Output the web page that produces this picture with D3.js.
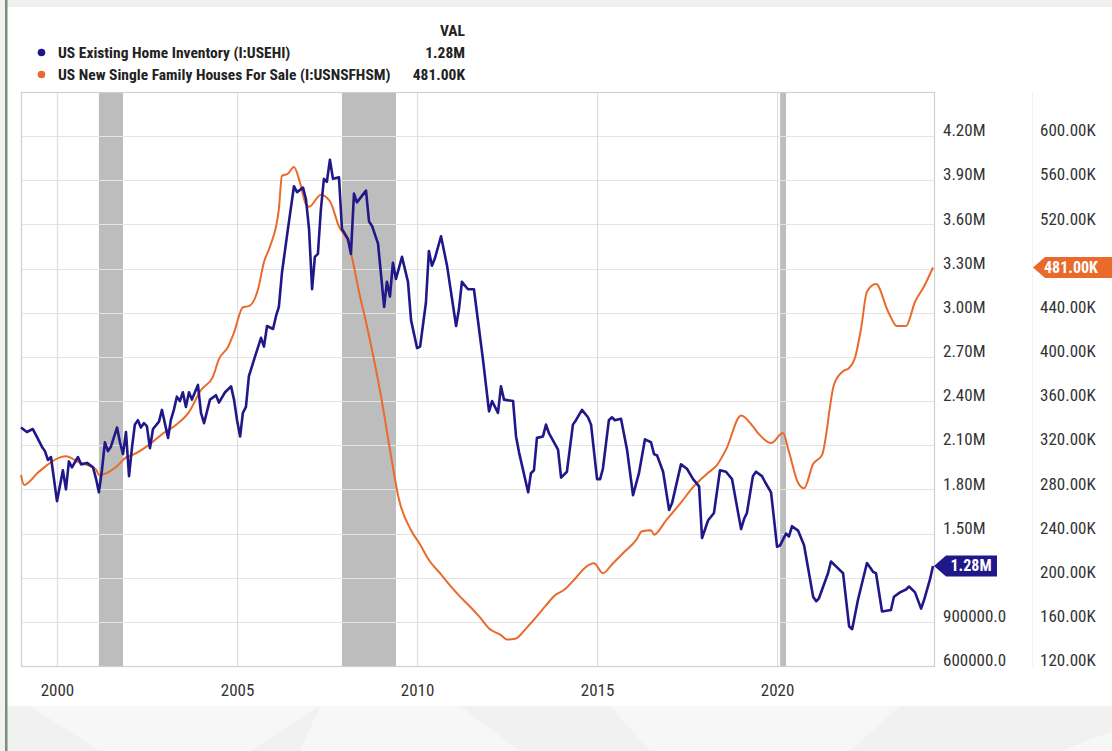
<!DOCTYPE html>
<html>
<head>
<meta charset="utf-8">
<script src="https://cdn.jsdelivr.net/npm/d3@7"></script>
<style>
  html, body { margin: 0; padding: 0; background: #f1f1f1; }
  svg { display: block; }
</style>
</head>
<body>
<svg id="chart" width="1112" height="751"></svg>
<script>
// US Existing Home Inventory (millions), monthly readings
const existingDates = ["1999-01","1999-03","1999-05","1999-06","1999-08","1999-09","1999-10","1999-11","2000-01","2000-03","2000-04","2000-05","2000-06","2000-08","2000-09","2000-11","2001-01","2001-02","2001-03","2001-04","2001-05","2001-06","2001-07","2001-09","2001-10","2001-11","2001-12","2002-01","2002-02","2002-03","2002-04","2002-05","2002-06","2002-07","2002-08","2002-09","2002-11","2002-12","2003-02","2003-03","2003-04","2003-05","2003-06","2003-07","2003-08","2003-09","2003-10","2003-12","2004-01","2004-02","2004-04","2004-06","2004-07","2004-09","2004-11","2004-12","2005-01","2005-02","2005-03","2005-04","2005-05","2005-07","2005-09","2005-10","2005-11","2006-01","2006-02","2006-03","2006-04","2006-06","2006-08","2006-09","2006-11","2006-12","2007-01","2007-02","2007-03","2007-04","2007-05","2007-06","2007-07","2007-08","2007-09","2007-11","2007-12","2008-02","2008-03","2008-04","2008-05","2008-08","2008-09","2008-10","2008-12","2009-02","2009-03","2009-04","2009-05","2009-06","2009-08","2009-10","2009-11","2010-01","2010-02","2010-04","2010-05","2010-06","2010-07","2010-09","2010-11","2011-02","2011-03","2011-04","2011-06","2011-08","2011-11","2012-01","2012-02","2012-04","2012-05","2012-06","2012-09","2012-10","2012-11","2013-02","2013-03","2013-04","2013-05","2013-07","2013-08","2013-09","2013-12","2014-01","2014-03","2014-05","2014-06","2014-08","2014-10","2014-11","2015-01","2015-02","2015-03","2015-05","2015-06","2015-07","2015-09","2015-11","2016-01","2016-03","2016-05","2016-07","2016-08","2016-09","2016-11","2017-01","2017-02","2017-05","2017-07","2017-09","2017-11","2017-12","2018-02","2018-04","2018-06","2018-08","2018-10","2019-01","2019-02","2019-03","2019-05","2019-06","2019-08","2019-09","2019-11","2019-12","2020-01","2020-02","2020-04","2020-05","2020-06","2020-08","2020-10","2021-01","2021-02","2021-03","2021-06","2021-07","2021-09","2021-11","2022-01","2022-02","2022-04","2022-07","2022-09","2022-10","2022-12","2023-03","2023-04","2023-06","2023-08","2023-09","2023-11","2024-01","2024-02","2024-04","2024-05"];
const existingValues = [2.22,2.19,2.21,2.17,2.09,2.06,2.00,2.02,1.72,1.93,1.80,1.99,1.95,2.02,1.97,1.98,1.95,1.87,1.78,1.93,2.12,2.06,2.09,2.22,2.12,2.04,2.19,1.89,2.09,2.24,2.27,2.22,2.25,2.23,2.08,2.21,2.26,2.34,2.15,2.27,2.34,2.43,2.40,2.46,2.36,2.46,2.41,2.51,2.32,2.25,2.41,2.44,2.39,2.46,2.50,2.41,2.27,2.16,2.32,2.36,2.57,2.70,2.83,2.77,2.91,2.89,2.98,3.04,3.27,3.57,3.86,3.82,3.85,3.77,3.57,3.16,3.38,3.40,3.70,3.91,3.89,4.04,3.91,3.92,3.57,3.50,3.40,3.81,3.75,3.83,3.62,3.59,3.47,3.04,3.21,3.11,3.34,3.23,3.38,3.21,2.95,2.76,2.77,3.07,3.42,3.32,3.37,3.52,3.32,2.91,3.02,3.21,3.16,3.16,2.68,2.33,2.40,2.32,2.50,2.41,2.40,2.16,2.05,1.78,1.91,1.93,2.15,2.16,2.24,2.18,2.07,1.88,1.92,2.24,2.27,2.34,2.29,2.24,1.87,1.87,1.94,2.27,2.29,2.27,2.28,2.07,1.76,1.91,2.14,2.12,2.04,2.03,1.92,1.66,1.71,1.97,1.94,1.87,1.82,1.47,1.59,1.64,1.93,1.92,1.87,1.53,1.60,1.64,1.89,1.92,1.89,1.85,1.78,1.60,1.41,1.42,1.50,1.48,1.55,1.52,1.42,1.07,1.04,1.06,1.23,1.31,1.27,1.23,0.87,0.85,1.05,1.30,1.24,1.23,0.97,0.98,1.07,1.10,1.12,1.14,1.10,0.99,1.05,1.19,1.28];

// US New Single Family Houses For Sale (thousands)
const newDates = ["1999-01","1999-02","1999-07","2000-02","2000-04","2000-08","2001-02","2001-03","2001-09","2001-12","2002-02","2002-08","2002-12","2003-05","2003-09","2004-01","2004-05","2004-07","2004-10","2004-12","2005-03","2005-05","2005-08","2005-10","2005-12","2006-03","2006-04","2006-06","2006-08","2006-10","2006-12","2007-01","2007-05","2007-08","2007-11","2008-02","2008-06","2008-09","2009-01","2009-04","2009-07","2009-11","2010-02","2010-05","2010-09","2010-12","2011-03","2011-07","2011-10","2012-01","2012-05","2012-07","2012-10","2013-01","2013-04","2013-08","2013-11","2014-02","2014-06","2014-09","2014-12","2015-03","2015-06","2015-10","2016-02","2016-04","2016-07","2016-08","2016-12","2017-05","2017-09","2018-02","2018-05","2018-08","2019-01","2019-05","2019-07","2019-11","2020-03","2020-05","2020-08","2020-10","2021-01","2021-04","2021-08","2021-11","2022-01","2022-03","2022-05","2022-07","2022-10","2023-02","2023-05","2023-08","2023-11","2024-02","2024-05"];
const newValues = [293,284,296,309,310,305,298,293,301,309,311,321,330,339,350,370,382,398,409,422,445,446,461,486,500,534,564,566,572,558,538,536,547,541,518,504,455,419,364,316,271,243,230,216,203,193,184,173,164,154,148,144,145,153,162,175,184,189,200,209,213,204,212,223,234,242,243,239,252,268,282,295,302,316,347,337,330,322,331,314,286,281,303,311,375,387,390,399,425,459,466,441,428,428,450,464,481];

// Recession periods (shaded)
const recessionStarts = ["2001-03","2007-12","2020-02"];
const recessionEnds   = ["2001-11","2009-06","2020-04"];

// Axis ticks
const leftTicks  = [0.6,0.9,1.2,1.5,1.8,2.1,2.4,2.7,3.0,3.3,3.6,3.9,4.2];
const rightTicks = [120,160,200,240,280,320,360,400,440,480,520,560,600];
const yearTicks  = ["2000","2005","2010","2015","2020"];

const seriesNames = ["US Existing Home Inventory (I:USEHI)", "US New Single Family Houses For Sale (I:USNSFHSM)"];
const BLUE = "#201889", ORANGE = "#ea6a2b";
const FONT = '"Liberation Sans Narrow", "Roboto Condensed", "DejaVu Sans Condensed", sans-serif';

const parseMonth = d3.timeParse("%Y-%m");
const parseYear = d3.timeParse("%Y");

const existing = existingDates.map((d, i) => ({ date: parseMonth(d), value: existingValues[i] }));
const newHomes = newDates.map((d, i) => ({ date: parseMonth(d), value: newValues[i] }));

const svg = d3.select("#chart");
const W = 1112, H = 751;
const plot = { left: 21, right: 934, top: 92, bottom: 666 };

// page backdrop, faint watermark shapes and the white card
svg.append("rect").attr("width", W).attr("height", H).attr("fill", "#f1f1f1");
const wm = svg.append("g").attr("fill", "#f7f7f7");
[[30,706,320,706,250,751,100,751],[320,706,460,706,520,751,300,751],[610,706,900,706,850,751,650,751],[1180,706,1112,706,1112,751,1060,751]]
  .forEach(p => wm.append("polygon").attr("points", d3.range(0, p.length, 2).map(i => p[i] + "," + p[i+1]).join(" ")));
svg.append("rect").attr("x", 7).attr("y", 7).attr("width", W - 7).attr("height", 699).attr("fill", "#ffffff");
svg.append("rect").attr("x", 5).attr("y", 0).attr("width", 2.5).attr("height", H).attr("fill", "#7b8e79");

// scales
const x = d3.scaleTime().domain([parseMonth("1999-01"), parseMonth("2024-05")]).range([plot.left, 933]);
const yL = d3.scaleLinear().domain([0.6, 4.5]).range([plot.bottom, plot.top]);
const yR = d3.scaleLinear().domain([120, 640]).range([plot.bottom, plot.top]);

// recession shading
svg.append("g").selectAll("rect").data(recessionStarts).join("rect")
  .attr("x", (d) => x(parseMonth(d)))
  .attr("width", (d, i) => x(parseMonth(recessionEnds[i])) - x(parseMonth(d)))
  .attr("y", plot.top).attr("height", plot.bottom - plot.top)
  .attr("fill", "#bdbdbd");

// horizontal gridlines
svg.append("g").selectAll("line").data(leftTicks).join("line")
  .attr("x1", plot.left).attr("x2", plot.right)
  .attr("y1", d => Math.round(yL(d)) + 0.5).attr("y2", d => Math.round(yL(d)) + 0.5)
  .attr("stroke", "#e4e4e4").attr("stroke-width", 1.2);

// vertical gridlines + year labels
const xAxis = d3.axisBottom(x)
  .tickValues(yearTicks.map(parseYear))
  .tickFormat(d3.timeFormat("%Y"))
  .tickSize(-(plot.bottom - plot.top))
  .tickPadding(18);
const gx = svg.append("g").attr("transform", `translate(0,${plot.bottom})`).call(xAxis);
gx.select(".domain").remove();
gx.selectAll(".tick line").attr("stroke", "#dedede").attr("stroke-width", 1.2);
gx.selectAll(".tick text").attr("font-family", FONT).attr("font-size", 17).attr("fill", "#333");

// plot frame and column divider
svg.append("rect").attr("x", plot.left + 0.5).attr("y", plot.top + 0.5)
  .attr("width", plot.right - plot.left).attr("height", plot.bottom - plot.top)
  .attr("fill", "none").attr("stroke", "#cfcfcf").attr("stroke-width", 1.2);
svg.append("line").attr("x1", 1032.5).attr("x2", 1032.5).attr("y1", plot.top).attr("y2", plot.bottom)
  .attr("stroke", "#f0f0f0");

// series lines
const lineL = d3.line().x(d => x(d.date)).y(d => yL(d.value));
const lineR = d3.line().x(d => x(d.date)).y(d => yR(d.value)).curve(d3.curveMonotoneX);
svg.append("path").datum(newHomes).attr("d", lineR)
  .attr("fill", "none").attr("stroke", ORANGE).attr("stroke-width", 2).attr("stroke-linejoin", "round");
svg.append("path").datum(existing).attr("d", lineL)
  .attr("fill", "none").attr("stroke", BLUE).attr("stroke-width", 2.6).attr("stroke-linejoin", "round");

const lastL = existing[existing.length - 1];
const lastR = newHomes[newHomes.length - 1];
const fmtL = v => v >= 1 ? v.toFixed(2) + "M" : (v * 1e6).toFixed(1);
const fmtR = v => v.toFixed(2) + "K";

// value axes on the right
const axL = d3.axisRight(yL).tickValues(leftTicks).tickFormat(fmtL).tickSize(0).tickPadding(0);
const gL = svg.append("g").attr("transform", "translate(943,0)").call(axL);
const axR = d3.axisRight(yR).tickValues(rightTicks).tickFormat(fmtR).tickSize(0).tickPadding(0);
const gR = svg.append("g").attr("transform", "translate(1040,0)").call(axR);
[gL, gR].forEach(g => {
  g.select(".domain").remove();
  g.selectAll(".tick text").attr("font-family", FONT).attr("font-size", 17).attr("fill", "#333")
    .attr("dy", "-0.02em");
});
// hide labels sitting under the last-value tags
gL.selectAll(".tick").filter(d => Math.abs(yL(d) - yL(lastL.value)) < 14).remove();
gR.selectAll(".tick").filter(d => Math.abs(yR(d) - yR(lastR.value)) < 14).remove();

// last-value tags
function tag(tipX, yPos, bodyX, bodyW, textX, color, text) {
  const h = 21;
  svg.append("path")
    .attr("d", `M${tipX},${yPos} L${bodyX},${yPos - h / 2} L${bodyX + bodyW},${yPos - h / 2} L${bodyX + bodyW},${yPos + h / 2} L${bodyX},${yPos + h / 2} Z`)
    .attr("fill", color);
  svg.append("text").attr("x", textX).attr("y", yPos + 5.5)
    .attr("text-anchor", "middle").attr("font-family", FONT).attr("font-weight", "bold")
    .attr("font-size", 16).attr("fill", "#fff").text(text);
}
tag(plot.right, yL(lastL.value), 946, 51, 971, BLUE, fmtL(lastL.value));
tag(1033, yR(lastR.value), 1045, 80, 1071, ORANGE, fmtR(lastR.value));

// legend
const lg = svg.append("g").attr("font-family", FONT).attr("font-weight", "bold").attr("fill", "#222");
lg.append("text").attr("x", 465).attr("y", 35.5).attr("text-anchor", "end").attr("font-size", 15.5).text("VAL");
[[BLUE, lastL.value, fmtL], [ORANGE, lastR.value, fmtR]].forEach((row, i) => {
  const yy = 52.5 + i * 22;
  lg.append("circle").attr("cx", 41.5).attr("cy", yy).attr("r", 3.8).attr("fill", row[0]);
  lg.append("text").attr("x", 58).attr("y", yy + 5.2).attr("font-size", 15.5).text(seriesNames[i]);
  lg.append("text").attr("x", 465).attr("y", yy + 5.2).attr("text-anchor", "end").attr("font-size", 15.5).text(row[2](row[1]));
});
</script>
</body>
</html>
